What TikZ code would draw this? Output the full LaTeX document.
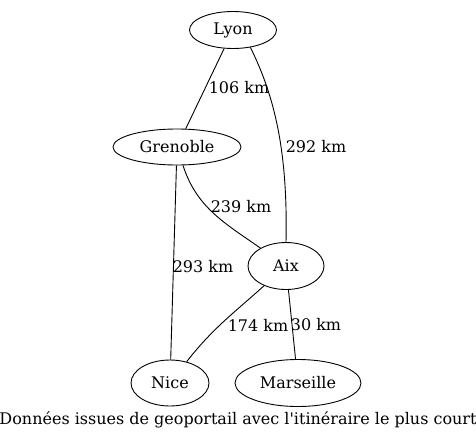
\documentclass[tikz,border=0pt]{standalone}
\usepackage{fontspec}
\setmainfont{DejaVu Serif}[Ligatures=TeXOff]
\usetikzlibrary{shapes.geometric}
\begin{document}
\begin{tikzpicture}[x=1pt,y=1pt,
  city/.style={ellipse,draw,line width=0.9pt,inner sep=0pt,font=\fontsize{16}{18}\selectfont},
  road/.style={line width=0.9pt},
  lbl/.style={font=\fontsize{16}{18}\selectfont,inner sep=0pt}]
\useasboundingbox (0,0) rectangle (476,-447);
\node[city,minimum width=87,minimum height=37] (lyon) at (233,-30) {Lyon};
\node[city,minimum width=128,minimum height=36] (gre) at (177,-147) {Grenoble};
\node[city,minimum width=76,minimum height=47] (aix) at (286,-266) {Aix};
\node[city,minimum width=78,minimum height=46] (nice) at (170,-383) {Nice};
\node[city,minimum width=126,minimum height=47] (mars) at (298,-383) {Marseille};
\node[lbl] (cap) at (238,-420) {Données issues de geoportail avec l'itinéraire le plus court};
\draw[road] (lyon) -- (gre);
\draw[road] (lyon.-45) .. controls (274,-95) and (288,-150) .. (aix.north);
\draw[road] (gre) to[out=-72,in=145] (aix);
\draw[road] (gre) -- (nice);
\draw[road] (aix) to[out=-138,in=52] (nice);
\draw[road] (aix) -- (mars);
\node[lbl] (l1) at (239,-88) {106 km};
\node[lbl] (l2) at (316,-147) {292 km};
\node[lbl] (l3) at (241,-207) {239 km};
\node[lbl] (l4) at (203,-267) {293 km};
\node[lbl] (l5) at (258,-325) {174 km};
\node[lbl] (l6) at (316,-325) {30 km};
\end{tikzpicture}
\end{document}
